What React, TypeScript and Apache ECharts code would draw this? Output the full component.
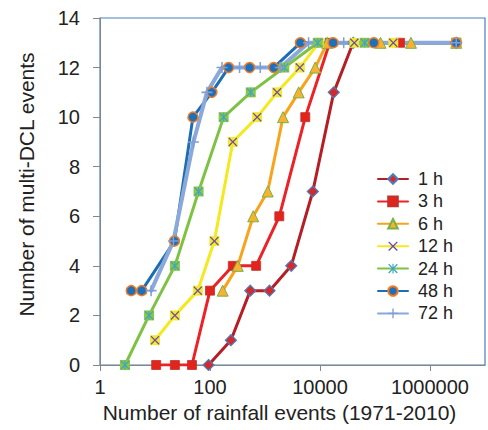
import React, { useEffect, useRef } from "react";
import * as echarts from "echarts";

// ---- data ----
const seriesNames = ["1 h", "3 h", "6 h", "12 h", "24 h", "48 h", "72 h"];

const x1h = [94, 240, 540, 1210, 3000, 7400, 17800, 40000, 3000000];
const y1h = [0, 1, 3, 3, 4, 7, 11, 13, 13];

const x3h = [10.5, 23, 47, 100, 260, 690, 1820, 5400, 15000, 285000, 3000000];
const y3h = [0, 0, 0, 3, 4, 4, 6, 10, 13, 13, 13];

const x6h = [170, 320, 610, 1120, 2130, 4100, 8200, 13500, 126000, 450000, 3000000];
const y6h = [3, 4, 6, 7, 10, 11, 12, 13, 13, 13, 13];

const x12h = [10, 23, 60, 120, 260, 720, 1660, 4300, 9500, 42000, 215000, 3000000];
const y12h = [1, 2, 3, 5, 9, 10, 11, 12, 13, 13, 13, 13];

const x24h = [2.85, 7.8, 23, 62, 177, 550, 2240, 9100, 65000, 3000000];
const y24h = [0, 2, 4, 7, 10, 11, 12, 13, 13, 13];

const x48h = [3.7, 5.75, 22.6, 49, 108, 218, 525, 1440, 4400, 17300, 95000, 3000000];
const y48h = [3, 3, 5, 10, 11, 12, 12, 12, 13, 13, 13, 13];

const x72h = [8.5, 21.6, 50, 88, 165, 345, 820, 1900, 6200, 27000, 3000000];
const y72h = [3, 5, 9, 11, 12, 12, 12, 12, 13, 13, 13];

const xTickLabels = ["1", "100", "10000", "1000000"];
const xTitle = "Number of rainfall events (1971-2010)";
const yTitle = "Number of multi-DCL events";

const pairs = (xs: number[], ys: number[]) => xs.map((x, i) => [x, ys[i]]);

const X_PATH =
  "path://M1,0 L5,4 L9,0 L10,1 L6,5 L10,9 L9,10 L5,6 L1,10 L0,9 L4,5 L0,1 Z";
const STAR_PATH =
  "path://M1,0 L5,4 L9,0 L10,1 L6,5 L10,9 L9,10 L5,6 L1,10 L0,9 L4,5 L0,1 Z M4.4,0 L5.6,0 L5.6,10 L4.4,10 Z";
const PLUS_PATH =
  "path://M4.3,0 L5.7,0 L5.7,4.3 L10,4.3 L10,5.7 L5.7,5.7 L5.7,10 L4.3,10 L4.3,5.7 L0,5.7 L0,4.3 L4.3,4.3 Z";

const FONT = "Liberation Sans, Arial, sans-serif";

export default function App() {
  const ref = useRef<HTMLDivElement>(null);

  useEffect(() => {
    if (!ref.current) return;
    const chart = echarts.init(ref.current, undefined, { renderer: "svg" });

    const lineBase = (name: string, data: number[][], color: string, width: number) => ({
      name,
      type: "line",
      data,
      showAllSymbol: true,
      lineStyle: { color, width, cap: "round", join: "round" },
      emphasis: { disabled: true },
    });

    // marker background layer (square behind X / asterisk), not listed in the legend
    const bgLayer = (name: string, data: number[][], color: string) => ({
      name,
      type: "line",
      data,
      showAllSymbol: true,
      symbol: "rect",
      symbolSize: 10,
      lineStyle: { width: 0, opacity: 0 },
      itemStyle: { color },
      emphasis: { disabled: true },
    });

    const option: any = {
      animation: false,
      backgroundColor: "#ffffff",
      grid: {
        left: 100,
        right: 3,
        top: 18,
        bottom: 65,
        show: true,
        borderColor: "#4A7EBB",
        borderWidth: 1.2,
        backgroundColor: "transparent",
      },
      legend: {
        orient: "vertical",
        left: 372,
        top: 165,
        itemWidth: 30,
        itemHeight: 12,
        itemGap: 4.4,
        data: seriesNames,
        textStyle: { fontSize: 18, color: "#222", fontFamily: FONT, padding: [0, 0, 0, 5] },
      },
      xAxis: {
        type: "log",
        logBase: 100,
        min: 1,
        max: 1e7,
        name: xTitle,
        nameLocation: "middle",
        nameGap: 36,
        nameTextStyle: { fontSize: 21, color: "#222", fontFamily: FONT, padding: [0, 26, 0, 0] },
        axisLine: { show: true, lineStyle: { color: "#868686", width: 1 } },
        axisTick: { show: true, length: 6, lineStyle: { color: "#868686" } },
        splitLine: { show: false },
        minorTick: { show: false },
        axisLabel: {
          fontSize: 20,
          color: "#222",
          fontFamily: FONT,
          margin: 12,
          showMaxLabel: false,
          formatter: (v: number) => {
            const e = Math.log10(v);
            const r = Math.round(e);
            if (Math.abs(e - r) > 1e-6 || r % 2 !== 0) return "";
            return xTickLabels[r / 2] ?? "";
          },
        },
      },
      yAxis: {
        type: "value",
        min: 0,
        max: 14,
        interval: 2,
        name: yTitle,
        nameLocation: "middle",
        nameGap: 63,
        nameRotate: 90,
        nameTextStyle: { fontSize: 21, color: "#222", fontFamily: FONT, padding: [0, 0, 0, 14] },
        axisLine: { show: true, lineStyle: { color: "#868686", width: 1 } },
        axisTick: { show: true, length: 7, lineStyle: { color: "#868686" } },
        splitLine: { show: false },
        axisLabel: { fontSize: 20, color: "#222", fontFamily: FONT, margin: 20 },
      },
      series: [
        {
          ...lineBase("1 h", pairs(x1h, y1h), "#B51E24", 3),
          symbol: "diamond",
          symbolSize: 11,
          itemStyle: { color: "#D42A2E", borderColor: "#4A7EBB", borderWidth: 1.2 },
        },
        {
          ...lineBase("3 h", pairs(x3h, y3h), "#EE2226", 3),
          symbol: "rect",
          symbolSize: 9,
          itemStyle: { color: "#E3241D", borderColor: "#C0322B", borderWidth: 0.8 },
        },
        {
          ...lineBase("6 h", pairs(x6h, y6h), "#F9A31B", 3),
          symbol: "triangle",
          symbolSize: 11,
          itemStyle: { color: "#F8B232", borderColor: "#77B245", borderWidth: 1 },
        },
        bgLayer("12 h markers", pairs(x12h, y12h), "#F2E836"),
        {
          ...lineBase("12 h", pairs(x12h, y12h), "#F3E91C", 3),
          symbol: X_PATH,
          symbolSize: 9,
          itemStyle: { color: "#6E4E9E" },
        },
        bgLayer("24 h markers", pairs(x24h, y24h), "#8DC63F"),
        {
          ...lineBase("24 h", pairs(x24h, y24h), "#7DC242", 3),
          symbol: STAR_PATH,
          symbolSize: 9,
          itemStyle: { color: "#3FA6C6" },
        },
        {
          ...lineBase("48 h", pairs(x48h, y48h), "#1D6DB5", 3),
          symbol: "circle",
          symbolSize: 10,
          itemStyle: { color: "#1F70BA", borderColor: "#F47B20", borderWidth: 1.5 },
        },
        {
          ...lineBase("72 h", pairs(x72h, y72h), "#8AA8DA", 4),
          symbol: PLUS_PATH,
          symbolSize: 11,
          itemStyle: { color: "#7F9ED6" },
        },
      ],
    };

    chart.setOption(option);
    return () => chart.dispose();
  }, []);

  return (
    <div
      ref={ref}
      style={{ position: "fixed", left: 0, top: 0, width: 488, height: 430 }}
    />
  );
}
